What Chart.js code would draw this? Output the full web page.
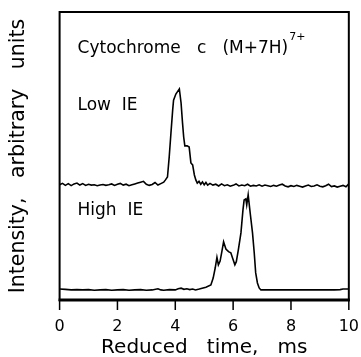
<!DOCTYPE html>
<html>
<head>
<meta charset="utf-8">
<script src="https://cdn.jsdelivr.net/npm/chart.js@4"></script>
<style>
  html, body { margin: 0; padding: 0; background: #fff; }
</style>
</head>
<body>
<canvas id="driftChart" width="361" height="357"></canvas>
<script>
// arrival time distributions, intensity in arbitrary units (0-100 across the frame)
const lowTime = [0.0, 0.1, 0.2, 0.3, 0.4, 0.5, 0.6, 0.7, 0.8, 0.9, 1.0, 1.1, 1.2, 1.3, 1.4, 1.5, 1.6, 1.7, 1.8, 1.9,
    2.0, 2.1, 2.2, 2.3, 2.4, 2.5, 2.6, 2.7, 2.8, 2.9, 3.0, 3.1, 3.2, 3.3, 3.4, 3.5, 3.6,
    3.66, 3.73, 3.79, 3.85, 3.91, 3.94, 4.02, 4.14, 4.2, 4.25, 4.29, 4.33, 4.41, 4.48, 4.54, 4.6, 4.66, 4.71, 4.76,
    4.82, 4.88, 4.94, 5.0, 5.06, 5.12, 5.2, 5.3, 5.4, 5.5, 5.6, 5.7, 5.8, 5.9, 6.0, 6.1, 6.2, 6.3, 6.4, 6.5, 6.6,
    6.7, 6.8, 6.9, 7.0, 7.1, 7.2, 7.3, 7.4, 7.5, 7.6, 7.7, 7.8, 7.9, 8.0, 8.1, 8.2, 8.3, 8.4, 8.5, 8.6, 8.7, 8.8,
    8.9, 9.0, 9.1, 9.2, 9.3, 9.4, 9.5, 9.6, 9.7, 9.8, 9.9, 10.0];
const lowIntensity = [40.0, 40.5, 39.8, 40.4, 39.7, 40.3, 40.6, 39.9, 40.4, 39.8, 40.2, 39.9, 40.0, 39.7, 39.9, 40.1, 39.8, 40.0, 40.3, 39.8,
    40.2, 40.5, 39.9, 40.2, 39.7, 40.0, 40.3, 40.6, 40.9, 41.2, 40.2, 39.8, 40.1, 40.8, 39.9, 40.4, 40.9,
    41.7, 42.7, 49.7, 58.0, 66.0, 69.4, 71.5, 73.3, 68.4, 61.5, 56.6, 53.5, 53.5, 53.1, 47.6, 46.9, 43.4, 41.7, 40.6,
    41.2, 40.2, 41.0, 40.0, 40.8, 39.9, 40.5, 39.9, 40.2, 39.6, 40.3, 39.7, 40.0, 39.5, 39.8, 40.3, 39.6, 39.9, 39.7, 40.2, 39.5,
    39.8, 39.6, 40.0, 39.5, 39.9, 39.7, 39.4, 39.8, 39.5, 39.9, 40.2, 39.6, 39.3, 39.7, 39.4, 39.8, 39.5, 39.2, 39.6, 39.9, 39.4, 39.6,
    40.0, 39.5, 39.3, 39.7, 40.2, 39.4, 39.6, 39.2, 39.5, 39.8, 39.3, 40.3];

const highTime = [0.0, 0.2, 0.4, 0.6, 0.8, 1.0, 1.2, 1.4, 1.6, 1.8, 2.0, 2.2, 2.4, 2.6, 2.8, 3.0, 3.2, 3.4, 3.5, 3.6,
    3.8, 4.0, 4.1, 4.2, 4.3, 4.4, 4.5, 4.6, 4.7, 4.83, 5.06, 5.23, 5.31, 5.38, 5.44, 5.49, 5.55, 5.61, 5.67, 5.75,
    5.84, 5.92, 5.98, 6.06, 6.11, 6.18, 6.27, 6.34, 6.38, 6.44, 6.47, 6.52, 6.59, 6.67, 6.73, 6.78, 6.84, 6.9, 6.96,
    7.5, 8.0, 8.5, 9.0, 9.5, 9.7, 9.8, 10.0];
const highIntensity = [3.8, 3.7, 3.5, 3.6, 3.5, 3.6, 3.4, 3.5, 3.6, 3.4, 3.5, 3.6, 3.4, 3.5, 3.6, 3.4, 3.5, 3.9, 3.5, 3.4,
    3.6, 3.5, 3.9, 4.1, 3.7, 3.9, 3.6, 3.8, 3.5, 3.8, 4.4, 5.2, 7.6, 11.1, 14.8, 12.2, 13.5, 16.8, 20.2, 17.7,
    16.8, 16.4, 14.6, 12.2, 13.3, 17.4, 23.3, 31.3, 34.7, 35.1, 33.0, 36.5, 30.2, 23.3, 16.3, 9.4, 5.9, 4.2, 3.5,
    3.5, 3.5, 3.5, 3.5, 3.5, 3.6, 3.8, 3.8];

const xTicks = [0, 2, 4, 6, 8, 10];

const FONT = 'DejaVu Sans';
const TICK_LEN = 10;

function toPoints(xs, ys) {
    return xs.map((x, i) => ({ x: x, y: ys[i] }));
}

// frame, tick marks and the labels inside the plot
const framePlugin = {
    id: 'frame',
    afterDraw(chart) {
        const { ctx, chartArea: a, scales } = chart;
        const xs = scales.x, ys = scales.y;
        ctx.save();
        ctx.strokeStyle = '#000';
        ctx.lineWidth = 2;
        ctx.strokeRect(a.left, a.top, a.right - a.left, a.bottom - a.top);
        ctx.lineWidth = 3;
        ctx.beginPath();
        ctx.moveTo(a.left - 1, a.bottom);
        ctx.lineTo(a.right + 1, a.bottom);
        ctx.stroke();

        ctx.lineWidth = 1.5;
        ctx.beginPath();
        xTicks.forEach(v => {
            const px = xs.getPixelForValue(v);
            ctx.moveTo(px, a.bottom);
            ctx.lineTo(px, a.bottom + TICK_LEN);
        });
        ctx.stroke();

        ctx.fillStyle = '#000';
        ctx.textBaseline = 'alphabetic';
        ctx.textAlign = 'left';
        ctx.font = '17px "' + FONT + '"';
        const x0 = xs.getPixelForValue(0.62);
        const title = 'Cytochrome   c   (M+7H)';
        const ty = ys.getPixelForValue(85.8);
        ctx.fillText(title, x0, ty);
        const w = ctx.measureText(title).width;
        ctx.font = '11px "' + FONT + '"';
        ctx.fillText('7+', x0 + w + 1, ty - 13);
        ctx.font = '17px "' + FONT + '"';
        ctx.fillText('Low  IE', x0, ys.getPixelForValue(66));
        ctx.fillText('High  IE', x0, ys.getPixelForValue(29.5));
        ctx.restore();
    }
};

const ctx = document.getElementById('driftChart').getContext('2d');
const driftChart = new Chart(ctx, {
    type: 'line',
    data: {
        datasets: [
            {
                label: 'Low IE',
                data: toPoints(lowTime, lowIntensity),
                borderColor: '#000',
                borderWidth: 1.6,
                pointRadius: 0,
                tension: 0
            },
            {
                label: 'High IE',
                data: toPoints(highTime, highIntensity),
                borderColor: '#000',
                borderWidth: 1.6,
                pointRadius: 0,
                tension: 0
            }
        ]
    },
    options: {
        responsive: false,
        animation: false,
        layout: { padding: { left: 4, right: 11, top: 12, bottom: 0 } },
        plugins: {
            legend: { display: false },
            tooltip: { enabled: false }
        },
        scales: {
            x: {
                type: 'linear',
                min: 0,
                max: 10,
                afterBuildTicks: (scale) => { scale.ticks = xTicks.map(v => ({ value: v })); },
                ticks: { color: '#000', font: { family: FONT, size: 16, lineHeight: 1.0 }, padding: 2, maxRotation: 0 },
                // room under the axis for the tick marks and gap; the marks themselves are drawn by the frame plugin
                grid: { drawOnChartArea: false, drawTicks: true, tickLength: 17, tickColor: 'rgba(0,0,0,0)' },
                border: { display: false },
                title: {
                    display: true,
                    text: 'Reduced   time,   ms',
                    color: '#000',
                    font: { family: FONT, size: 20, lineHeight: 0.9 },
                    padding: { top: 2, bottom: 0 }
                }
            },
            y: {
                min: 0,
                max: 100,
                ticks: { display: false },
                grid: { display: false, drawTicks: false },
                border: { display: false },
                title: {
                    display: true,
                    text: 'Intensity,   arbitrary   units',
                    color: '#000',
                    font: { family: FONT, size: 20.5 },
                    padding: { top: 2, bottom: 29 }
                }
            }
        }
    },
    plugins: [framePlugin]
});
</script>
</body>
</html>
